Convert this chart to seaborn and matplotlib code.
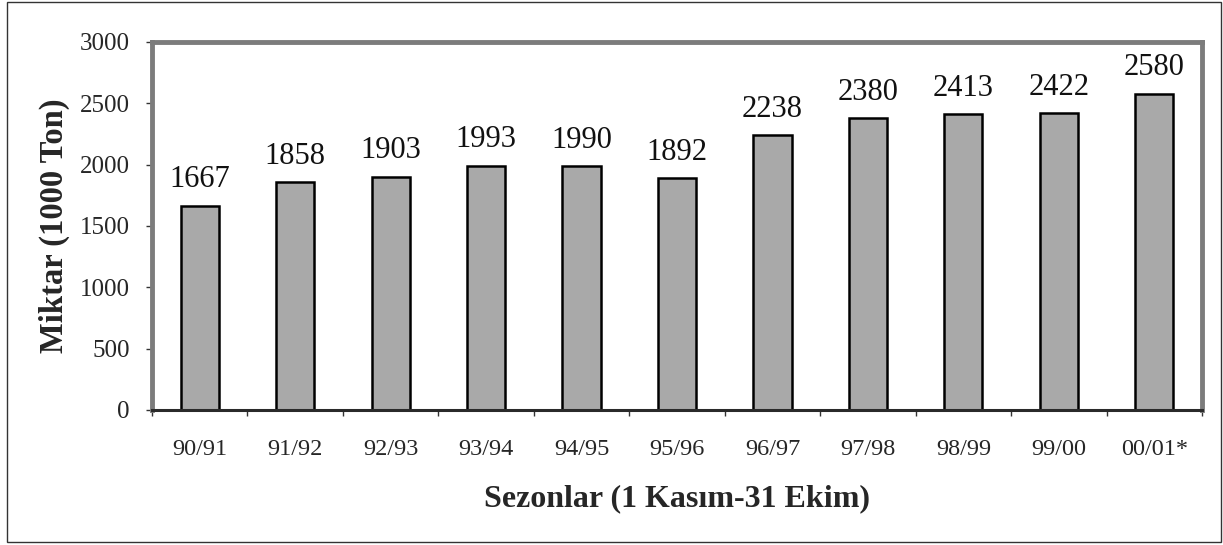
import matplotlib
matplotlib.use("Agg")

import matplotlib.pyplot as plt
import numpy as np
import pandas as pd
import seaborn as sns


# ============================================================================
# Chart Data
# ============================================================================

seasons = [
    "90/91", "91/92", "92/93", "93/94", "94/95", "95/96",
    "96/97", "97/98", "98/99", "99/00", "00/01*"
]

amounts = [1667, 1858, 1903, 1993, 1990, 1892, 2238, 2380, 2413, 2422, 2580]

y_ticks = [0, 500, 1000, 1500, 2000, 2500, 3000]

df = pd.DataFrame({"Sezon": seasons, "Miktar": amounts})


# ============================================================================
# Configure Visualization
# ============================================================================

sns.set_theme(style="white")

plt.rcParams["font.family"] = ["Liberation Serif", "DejaVu Serif"]


# ============================================================================
# Plot
# ============================================================================

fig = plt.figure(figsize=(12.23, 5.45), dpi=100)

ax = fig.add_axes([152 / 1223, 1 - 410 / 545, 1050 / 1223, 368 / 545])

sns.barplot(
    data=df,
    x="Sezon",
    y="Miktar",
    color="#a9a9a9",
    width=0.4,
    edgecolor="black",
    linewidth=1.8,
    saturation=1,
    ax=ax
)

for container in ax.containers:
    ax.bar_label(container, fontsize=22, padding=8, color="#111111")

ax.set_ylim(0, 3000)
ax.set_xlim(-0.5, len(seasons) - 0.5)
ax.set_yticks(y_ticks)
ax.set_yticklabels([str(v) for v in y_ticks], fontsize=18)

ax.set_xticks(np.arange(len(seasons)))
ax.set_xticklabels(seasons, fontsize=17.5)
ax.tick_params(axis="x", length=0, pad=21)
ax.tick_params(axis="y", length=4, width=1, color="#333333", left=True, pad=12)

# small tick marks between categories, as in the original
ax.set_xticks(np.arange(-0.5, len(seasons)), minor=True)
ax.tick_params(axis="x", which="minor", length=4, width=1, color="#333333", bottom=True)

ax.set_xlabel("Sezonlar (1 Kasım-31 Ekim)", fontsize=23, fontweight="bold", labelpad=17)
ax.set_ylabel("Miktar (1000 Ton)", fontsize=23.5, fontweight="bold", labelpad=7)

for side in ["top", "right", "left"]:
    ax.spines[side].set_color("#7c7c7c")
    ax.spines[side].set_linewidth(3.5)
ax.spines["bottom"].set_color("#2a2a2a")
ax.spines["bottom"].set_linewidth(2.2)

# outer frame around the figure
frame = plt.Rectangle(
    (7 / 1223, 1 - 542 / 545), 1214 / 1223, 540 / 545,
    transform=fig.transFigure, fill=False, edgecolor="#333333", linewidth=1
)
fig.patches.append(frame)

fig.savefig("out.png", dpi=100)
